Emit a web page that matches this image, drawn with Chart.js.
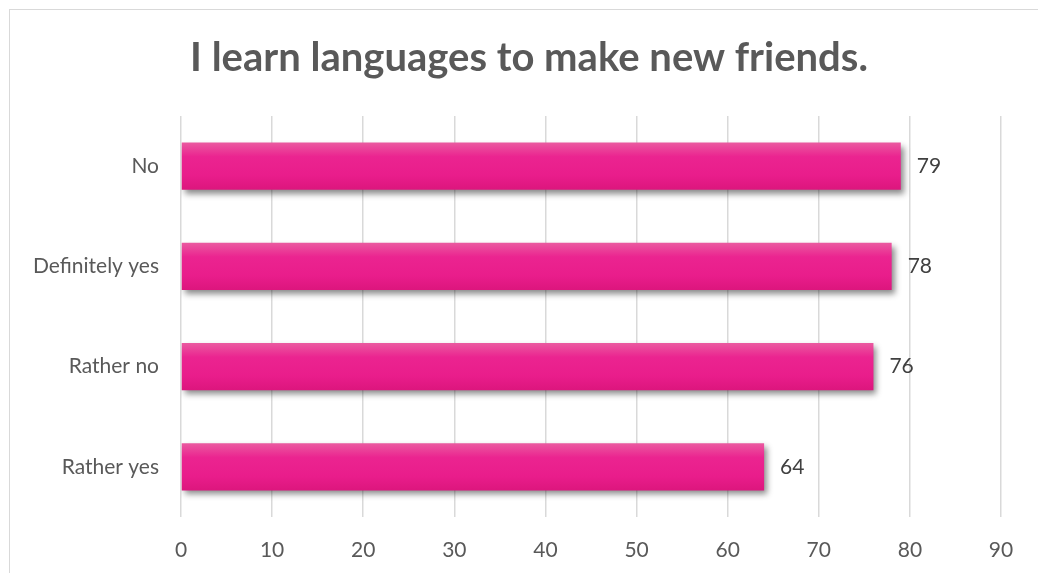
<!DOCTYPE html>
<html>
<head>
<meta charset="utf-8">
<script src="https://cdn.jsdelivr.net/npm/chart.js@4/dist/chart.umd.min.js"></script>
<style>
  html, body { margin: 0; padding: 0; background: #fff; }
  #wrap { position: relative; width: 1038px; height: 573px; overflow: hidden; }
  #frame { position: absolute; left: 9px; top: 9px; width: 1100px; height: 700px; border: 1px solid #d9d9d9; box-sizing: border-box; }
  canvas { position: absolute; left: 0; top: 0; }
</style>
</head>
<body>
<div id="wrap">
  <div id="frame"></div>
  <canvas id="chart" width="1038" height="573"></canvas>
</div>
<script>
const chartTitle = "I learn languages to make new friends.";
const categories = ["No", "Definitely yes", "Rather no", "Rather yes"];
const values = [79, 78, 76, 64];
const axisMin = 0;
const axisMax = 90;
const axisStep = 10;

const fontFamily = "Lato, 'Open Sans', sans-serif";
const barPct = 0.47;

// title centred on the whole frame, not just the padded chart box
const titleText = {
    id: "titleText",
    afterDraw(chart) {
        const ctx = chart.ctx;
        ctx.save();
        ctx.fillStyle = "#595959";
        ctx.font = "bold 40px " + fontFamily;
        ctx.textAlign = "center";
        ctx.textBaseline = "middle";
        ctx.fillText(chartTitle, 529, 58);
        ctx.restore();
    }
};

// shadow under the bars
const barShadow = {
    id: "barShadow",
    beforeDatasetDraw(chart) {
        const ctx = chart.ctx;
        ctx.save();
        ctx.shadowColor = "rgba(0, 0, 0, 0.45)";
        ctx.shadowBlur = 6;
        ctx.shadowOffsetX = 3;
        ctx.shadowOffsetY = 4;
    },
    afterDatasetDraw(chart) {
        chart.ctx.restore();
    }
};

// value labels to the right of each bar
const valueLabels = {
    id: "valueLabels",
    afterDatasetsDraw(chart) {
        const ctx = chart.ctx;
        const meta = chart.getDatasetMeta(0);
        ctx.save();
        ctx.fillStyle = "#404040";
        ctx.font = "21px " + fontFamily;
        ctx.textAlign = "left";
        ctx.textBaseline = "middle";
        meta.data.forEach((bar, i) => {
            ctx.fillText(values[i], bar.x + 16, bar.y);
        });
        ctx.restore();
    }
};

function barGradient(context) {
    const chart = context.chart;
    const yScale = chart.scales && chart.scales.y;
    if (!chart.chartArea || !yScale || context.dataIndex === undefined) return "#e91e8c";
    const center = yScale.getPixelForValue(context.dataIndex);
    const h = (chart.chartArea.height / categories.length) * barPct;
    const top = center - h / 2;
    if (!isFinite(top) || !isFinite(h)) return "#e91e8c";
    const g = chart.ctx.createLinearGradient(0, top, 0, top + h);
    g.addColorStop(0, "#ea5aa0");
    g.addColorStop(0.3, "#eb2490");
    g.addColorStop(0.7, "#e91d8b");
    g.addColorStop(1, "#dc167d");
    return g;
}

const ctx = document.getElementById("chart").getContext("2d");

new Chart(ctx, {
    type: "bar",
    data: {
        labels: categories,
        datasets: [{
            data: values,
            backgroundColor: barGradient,
            borderWidth: 0,
            categoryPercentage: 1,
            barPercentage: barPct
        }]
    },
    plugins: [barShadow, valueLabels, titleText],
    options: {
        indexAxis: "y",
        responsive: false,
        animation: false,
        layout: { padding: { left: 0, right: 37, top: 116, bottom: 0 } },
        plugins: {
            legend: { display: false },
            tooltip: { enabled: false },
            title: { display: false }
        },
        scales: {
            x: {
                min: axisMin,
                max: axisMax,
                ticks: {
                    stepSize: axisStep,
                    color: "#595959",
                    font: { family: fontFamily, size: 21 },
                    padding: 21
                },
                grid: { color: "#d9d9d9", lineWidth: 1.5, drawTicks: false },
                border: { display: false },
                afterFit(scale) { scale.height = 56; }
            },
            y: {
                ticks: {
                    color: "#595959",
                    font: { family: fontFamily, size: 21 },
                    padding: 22
                },
                grid: { display: false, drawTicks: false },
                border: { display: false },
                afterFit(scale) { scale.width = 181; }
            }
        }
    }
});
</script>
</body>
</html>
